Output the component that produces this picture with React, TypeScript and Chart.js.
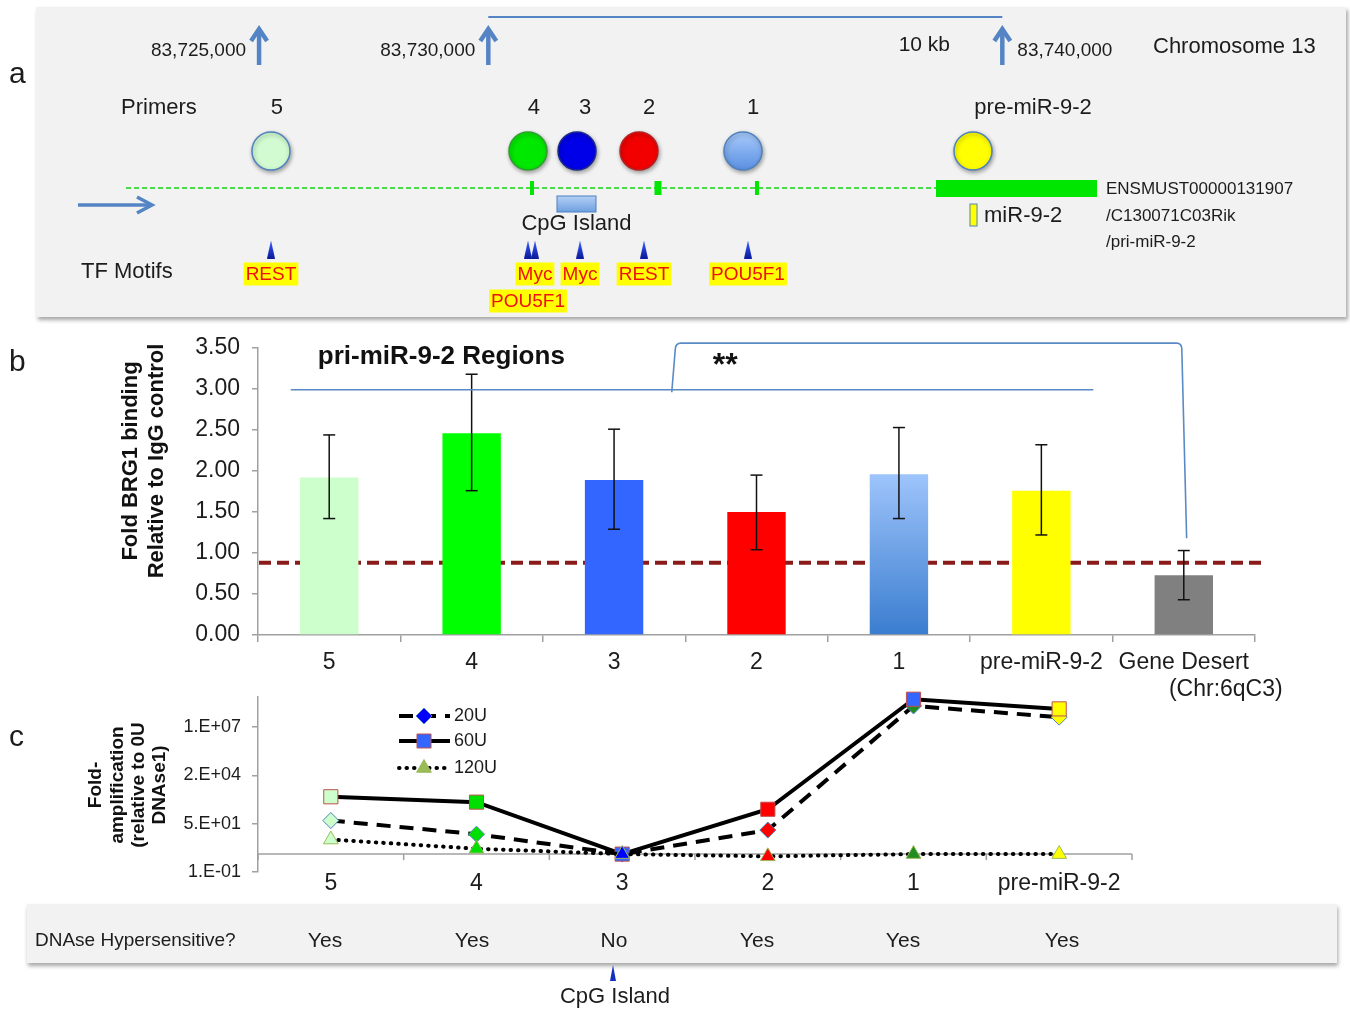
import React, { useEffect, useRef } from 'react';
import { Chart, registerables } from 'chart.js';

Chart.register(...registerables);

const FONT = '"Liberation Sans", Arial, Helvetica, sans-serif';
const TXT = '#1c1c1c';
const AXIS = '#a0a0a0';
const MAP_BLUE = '#5484c4';

// ===== Panel a : chromosome 13 map (positions in bp, schematic) =====
const scaleMarkLabels = ['83,725,000', '83,730,000', '83,740,000'];
const scaleMarkPos = [83725540, 83730000, 83740000];
const scaleBarSpan = [83730000, 83740000];
const scaleBarLabel = '10 kb';
const primerNames = ['5', '4', '3', '2', '1', 'pre-miR-9-2'];
const primerPos = [83725772, 83730772, 83731726, 83732932, 83734955, 83739430];
const geneSpan = [83722951, 83738710];
const exonTicks = [[83730811, 83730889], [83733233, 83733369], [83735188, 83735266]];
const exonBlock = [83738710, 83741842];
const tssArrow = [83722017, 83723457];
const cpgSpan = [83731336, 83732095];
const mirSpan = [83739371, 83739508];
const motifNames = ['REST', 'POU5F1', 'Myc', 'Myc', 'REST', 'POU5F1'];
const motifPos = [83725772, 83730772, 83730908, 83731784, 83733029, 83735052];
const motifRow = [1, 2, 1, 1, 1, 1];
const transcriptNames = ['ENSMUST00000131907', '/C130071C03Rik', '/pri-miR-9-2'];

// ===== Panel b : BRG1 ChIP =====
const bCategories = ['5', '4', '3', '2', '1', 'pre-miR-9-2', 'Gene Desert'];
const bValues = [1.92, 2.46, 1.89, 1.5, 1.96, 1.76, 0.73];
const bErrHigh = [2.44, 3.18, 2.51, 1.95, 2.53, 2.32, 1.03];
const bErrLow = [1.42, 1.76, 1.29, 1.04, 1.42, 1.22, 0.43];
const bTickLabels = ['0.00', '0.50', '1.00', '1.50', '2.00', '2.50', '3.00', '3.50'];
const bIgGLevel = 0.88;

// ===== Panel c : DNase I sensitivity =====
const cCategories = ['5', '4', '3', '2', '1', 'pre-miR-9-2'];
const c20U = [75, 13, 1, 22, 1.9e8, 4.5e7];
const c60U = [1600, 800, 1, 320, 4.5e8, 1.3e8];
const c120U = [6.5, 2, 1, 0.75, 1, 1];
const cTickValues = [0.1, 50, 25000, 12500000];
const cTickLabels = ['1.E-01', '5.E+01', '2.E+04', '1.E+07'];
const dnaseAnswers = ['Yes', 'Yes', 'No', 'Yes', 'Yes', 'Yes'];

// ===== styles / layout =====
const primerFill = ['#d2fbd2', '#00e800', '#0000e8', '#f20000', '#7eaef2', '#ffff00'];
const primerStroke = ['#4f81bd', '#2e9e2e', '#1a2a8a', '#b22222', '#4f81bd', '#4f81bd'];
const primerLabelDx = [6, 6, 8, 10, 10, 60];
const bFill = ['#ccffcc', '#00ff00', '#3366ff', '#ff0000', '#7aaaf0', '#ffff00', '#808080'];
const fill20 = ['#ccffcc', '#00e000', '#0000ff', '#ff0000', '#228b22', '#ffff00'];
const fill60 = ['#ccffcc', '#00e000', '#3366ff', '#ff0000', '#3366ff', '#ffff00'];
const fill120 = ['#ccffcc', '#00e000', '#0000ff', '#ff0000', '#228b22', '#ffff00'];
const dnaseX = [325, 472, 614, 757, 903, 1062];

const A_MIN = 83720500;
const A_MAX = A_MIN + 1350 * 19.455;

function text(ctx: any, s: string, x: number, y: number, size: number, align = 'left', weight = 'normal', color = TXT) {
  ctx.font = `${weight} ${size}px ${FONT}`;
  ctx.fillStyle = color;
  ctx.textAlign = align;
  ctx.textBaseline = 'middle';
  ctx.fillText(s, x, y);
}

function seg(ctx: any, x1: number, y1: number, x2: number, y2: number) {
  ctx.beginPath();
  ctx.moveTo(x1, y1);
  ctx.lineTo(x2, y2);
  ctx.stroke();
}

function triangleImage() {
  const c = document.createElement('canvas');
  c.width = 8;
  c.height = 18;
  const g = c.getContext('2d')!;
  const gr = g.createLinearGradient(0, 0, 0, 18);
  gr.addColorStop(0, '#3a5cff');
  gr.addColorStop(1, '#0a1a9a');
  g.fillStyle = gr;
  g.beginPath();
  g.moveTo(4, 0);
  g.lineTo(8, 18);
  g.lineTo(0, 18);
  g.closePath();
  g.fill();
  return c;
}

const aPlugin = {
  id: 'aMap',
  beforeDatasetsDraw(chart: any) {
    const { ctx } = chart;
    const X = (v: number) => chart.scales.x.getPixelForValue(v);
    const Y = (v: number) => chart.scales.y.getPixelForValue(v);
    ctx.save();
    text(ctx, 'a', 9, Y(75), 30);
    // scale bar
    ctx.strokeStyle = MAP_BLUE;
    ctx.lineWidth = 2;
    seg(ctx, X(scaleBarSpan[0]), Y(17), X(scaleBarSpan[1]), Y(17));
    text(ctx, scaleBarLabel, X(scaleBarSpan[1]) - 78, Y(45), 21, 'center');
    // coordinate arrows
    scaleMarkPos.forEach((p, i) => {
      const x = X(p);
      ctx.strokeStyle = MAP_BLUE;
      ctx.lineWidth = 4.5;
      ctx.lineCap = 'butt';
      ctx.lineJoin = 'miter';
      seg(ctx, x, Y(65), x, Y(30));
      ctx.beginPath();
      ctx.moveTo(x - 8, Y(41));
      ctx.lineTo(x, Y(29));
      ctx.lineTo(x + 8, Y(41));
      ctx.stroke();
      const leftSide = i < 2;
      text(ctx, scaleMarkLabels[i], leftSide ? x - 13 : x + 15, Y(51), 19, leftSide ? 'right' : 'left');
    });
    text(ctx, 'Chromosome 13', 1153, Y(47), 22);
    // primer labels
    text(ctx, 'Primers', 121, Y(108), 22);
    primerNames.forEach((n, i) => text(ctx, n, X(primerPos[i]) + primerLabelDx[i], Y(108), 22, 'center'));
    // gene model
    ctx.strokeStyle = '#4ddc4d';
    ctx.lineWidth = 2;
    ctx.setLineDash([5, 3]);
    seg(ctx, X(geneSpan[0]), Y(188), X(geneSpan[1]), Y(188));
    ctx.setLineDash([]);
    ctx.fillStyle = '#00e600';
    exonTicks.forEach(([s, e]) => ctx.fillRect(X(s), Y(181), X(e) - X(s), Y(195) - Y(181)));
    ctx.fillRect(X(exonBlock[0]), Y(180), X(exonBlock[1]) - X(exonBlock[0]), Y(197) - Y(180));
    transcriptNames.forEach((t, i) => text(ctx, t, X(exonBlock[1]) + 9, Y([189, 216, 242][i]), 17));
    // TSS arrow
    const ax0 = X(tssArrow[0]);
    const ax1 = X(tssArrow[1]);
    ctx.strokeStyle = MAP_BLUE;
    ctx.lineWidth = 3.5;
    seg(ctx, ax0, Y(205), ax1 - 2, Y(205));
    ctx.beginPath();
    ctx.moveTo(ax1 - 15, Y(197));
    ctx.lineTo(ax1, Y(205));
    ctx.lineTo(ax1 - 15, Y(213));
    ctx.stroke();
    // CpG island
    const cx0 = X(cpgSpan[0]);
    const cx1 = X(cpgSpan[1]);
    const cg = ctx.createLinearGradient(0, Y(196), 0, Y(212));
    cg.addColorStop(0, '#b4d0f6');
    cg.addColorStop(1, '#6e9fe0');
    ctx.fillStyle = cg;
    ctx.fillRect(cx0, Y(196), cx1 - cx0, Y(212) - Y(196));
    ctx.strokeStyle = '#4f7fc0';
    ctx.lineWidth = 1;
    ctx.strokeRect(cx0, Y(196), cx1 - cx0, Y(212) - Y(196));
    text(ctx, 'CpG Island', (cx0 + cx1) / 2, Y(224), 22, 'center');
    // miR-9-2
    const mx0 = X(mirSpan[0]);
    const mx1 = X(mirSpan[1]);
    ctx.fillStyle = '#ffff00';
    ctx.fillRect(mx0, Y(204), mx1 - mx0, Y(226) - Y(204));
    ctx.strokeStyle = '#4f81bd';
    ctx.strokeRect(mx0, Y(204), mx1 - mx0, Y(226) - Y(204));
    text(ctx, 'miR-9-2', mx1 + 7, Y(216), 22);
    // TF motifs
    text(ctx, 'TF Motifs', 81, Y(272), 22);
    motifNames.forEach((n, i) => {
      const x = X(motifPos[i]);
      const y = Y(motifRow[i] === 1 ? 274 : 301);
      ctx.font = `19px ${FONT}`;
      const w = ctx.measureText(n).width;
      ctx.fillStyle = '#ffff00';
      ctx.fillRect(x - w / 2 - 2, y - 11.5, w + 4, 23);
      text(ctx, n, x, y + 0.5, 19, 'center', 'normal', '#ee1111');
    });
    ctx.restore();
  },
  beforeDatasetDraw(chart: any, args: any) {
    if (args.index === 0) {
      const ctx = chart.ctx;
      ctx.save();
      ctx.shadowColor = 'rgba(0,0,0,0.35)';
      ctx.shadowBlur = 4;
      ctx.shadowOffsetX = 1;
      ctx.shadowOffsetY = 2;
    }
  },
  afterDatasetDraw(chart: any, args: any) {
    if (args.index === 0) chart.ctx.restore();
  },
};

function buildA(canvas: HTMLCanvasElement) {
  const tri = triangleImage();
  return new Chart(canvas, {
    type: 'scatter',
    data: {
      datasets: [
        {
          data: primerPos.map((p) => ({ x: p, y: 151 })),
          pointRadius: 19,
          pointHoverRadius: 19,
          pointBackgroundColor: (c: any) => {
            const i = c.dataIndex;
            if (c.type !== 'data') return '#ccc';
            if (i !== 4 || !c.chart.chartArea) return primerFill[i];
            const y = c.chart.scales.y.getPixelForValue(151);
            const g = c.chart.ctx.createLinearGradient(0, y - 19, 0, y + 19);
            g.addColorStop(0, '#a8cafb');
            g.addColorStop(1, '#5a90e2');
            return g;
          },
          pointBorderColor: primerStroke,
          pointBorderWidth: 1.5,
          clip: false,
        },
        {
          data: motifPos.map((p) => ({ x: p, y: 249.5 })),
          pointStyle: tri,
          pointRadius: 9,
          clip: false,
        },
      ],
    } as any,
    options: {
      responsive: false,
      animation: false,
      devicePixelRatio: 1,
      events: [],
      layout: { padding: 0, autoPadding: false },
      scales: {
        x: { type: 'linear', min: A_MIN, max: A_MAX, display: false },
        y: { type: 'linear', min: 0, max: 320, reverse: true, display: false },
      },
      plugins: { legend: { display: false }, tooltip: { enabled: false } },
    } as any,
    plugins: [aPlugin as any],
  });
}

const bPlugin = {
  id: 'bDeco',
  beforeDatasetsDraw(chart: any) {
    const { ctx, chartArea } = chart;
    const y = chart.scales.y.getPixelForValue(bIgGLevel);
    ctx.save();
    ctx.strokeStyle = '#8b1a1a';
    ctx.lineWidth = 4;
    ctx.setLineDash([12, 6]);
    seg(ctx, chartArea.left + 1, y, chartArea.right + 10, y);
    ctx.restore();
  },
  afterDatasetsDraw(chart: any) {
    const { ctx } = chart;
    const X = (v: number) => chart.scales.x.getPixelForValue(v);
    const Y = (v: number) => chart.scales.y.getPixelForValue(v);
    ctx.save();
    // error bars
    ctx.strokeStyle = '#111';
    ctx.lineWidth = 1.5;
    bValues.forEach((_, i) => {
      const x = X(i);
      const yh = Y(bErrHigh[i]);
      const yl = Y(bErrLow[i]);
      seg(ctx, x, yh, x, yl);
      seg(ctx, x - 6, yh, x + 6, yh);
      seg(ctx, x - 6, yl, x + 6, yl);
    });
    // significance brackets
    ctx.strokeStyle = '#5a8ac6';
    ctx.lineWidth = 1.6;
    seg(ctx, X(-0.27), Y(2.99), X(5.365), Y(2.99));
    ctx.beginPath();
    ctx.moveTo(X(2.405), Y(2.96));
    ctx.lineTo(X(2.43), Y(3.49));
    ctx.quadraticCurveTo(X(2.432), Y(3.56), X(2.47), Y(3.56));
    ctx.lineTo(X(5.95), Y(3.56));
    ctx.quadraticCurveTo(X(5.985), Y(3.56), X(5.986), Y(3.49));
    ctx.lineTo(X(6.02), Y(1.18));
    ctx.stroke();
    text(ctx, '**', X(2.78), Y(3.28), 32, 'center', 'bold', '#111');
    text(ctx, 'pri-miR-9-2 Regions', X(-0.08), Y(3.39), 26, 'left', 'bold', '#111');
    text(ctx, '(Chr:6qC3)', X(6) + 42, 370, 23, 'center');
    text(ctx, 'b', 9, 43, 30);
    const yt = ['Fold BRG1 binding', 'Relative to IgG control'];
    yt.forEach((s, i) => {
      ctx.save();
      ctx.translate(131 + i * 26, 141);
      ctx.rotate(-Math.PI / 2);
      text(ctx, s, 0, 0, 22, 'center', 'bold', '#111');
      ctx.restore();
    });
    ctx.restore();
  },
};

function buildB(canvas: HTMLCanvasElement) {
  return new Chart(canvas, {
    type: 'bar',
    data: {
      labels: bCategories,
      datasets: [
        {
          data: bValues,
          backgroundColor: (c: any) => {
            const i = c.dataIndex;
            if (c.type !== 'data') return '#888';
            if (i !== 4 || !c.chart.chartArea) return bFill[i];
            const top = c.chart.scales.y.getPixelForValue(bValues[i]);
            const g = c.chart.ctx.createLinearGradient(0, top, 0, c.chart.chartArea.bottom);
            g.addColorStop(0, '#9ec4fb');
            g.addColorStop(1, '#3a7dcf');
            return g;
          },
          borderWidth: 0,
          barPercentage: 0.41,
          categoryPercentage: 1,
        },
      ],
    } as any,
    options: {
      responsive: false,
      animation: false,
      devicePixelRatio: 1,
      events: [],
      layout: { padding: { left: 0, right: 95, top: 28, bottom: 0 }, autoPadding: false },
      scales: {
        x: {
          grid: { display: true, drawOnChartArea: false, offset: true, tickLength: 7, color: AXIS, lineWidth: 1.5 },
          border: { display: true, color: AXIS, width: 1.5 },
          ticks: { color: TXT, font: { family: FONT, size: 23 }, padding: 7, maxRotation: 0, autoSkip: false },
          afterFit: (s: any) => {
            s.height = 70;
            s.paddingLeft = 0;
            s.paddingRight = 0;
          },
        },
        y: {
          min: 0,
          max: 3.5,
          ticks: { stepSize: 0.5, callback: (_v: any, i: number) => bTickLabels[i], color: TXT, font: { family: FONT, size: 23 }, padding: 12 },
          grid: { drawOnChartArea: false, tickLength: 6, color: AXIS, lineWidth: 1.5 },
          border: { display: true, color: AXIS, width: 1.5 },
          afterFit: (s: any) => {
            s.width = 258;
            s.paddingTop = 0;
            s.paddingBottom = 0;
          },
        },
      },
      plugins: { legend: { display: false }, tooltip: { enabled: false } },
    } as any,
    plugins: [bPlugin as any],
  });
}

function drawMarker(ctx: any, style: string, x: number, y: number, fill: string, stroke: string) {
  ctx.fillStyle = fill;
  ctx.strokeStyle = stroke;
  ctx.lineWidth = 1;
  ctx.setLineDash([]);
  ctx.beginPath();
  if (style === 'rectRot') {
    ctx.moveTo(x, y - 8);
    ctx.lineTo(x + 8, y);
    ctx.lineTo(x, y + 8);
    ctx.lineTo(x - 8, y);
  } else if (style === 'rect') {
    ctx.rect(x - 7, y - 7, 14, 14);
  } else {
    const r = 8.5;
    ctx.moveTo(x, y - r);
    ctx.lineTo(x + r * 0.866, y + r / 2);
    ctx.lineTo(x - r * 0.866, y + r / 2);
  }
  ctx.closePath();
  ctx.fill();
  ctx.stroke();
}

const cPlugin = {
  id: 'cDeco',
  beforeDatasetsDraw(chart: any) {
    const { ctx, chartArea } = chart;
    const xs = chart.scales.x;
    const y1 = chart.scales.y.getPixelForValue(1);
    ctx.save();
    ctx.strokeStyle = AXIS;
    ctx.lineWidth = 1.5;
    seg(ctx, chartArea.left, y1, chartArea.right, y1);
    for (let i = 0; i <= cCategories.length; i++) {
      const x = xs.getPixelForValue(i - 0.5);
      seg(ctx, x, y1, x, y1 + 6);
    }
    ctx.restore();
  },
  afterDraw(chart: any) {
    const { ctx } = chart;
    ctx.save();
    text(ctx, 'c', 9, 48, 30);
    const yt = ['Fold-', 'amplification', '(relative to 0U', 'DNAse1)'];
    yt.forEach((s, i) => {
      ctx.save();
      ctx.translate(96 + i * 21.3, 95);
      ctx.rotate(-Math.PI / 2);
      text(ctx, s, 0, 0, 19, 'center', 'bold', '#111');
      ctx.restore();
    });
    // legend
    const items = [
      { label: '20U', dash: [14, 9], width: 4, cap: 'butt', style: 'rectRot', fill: '#0000ff', stroke: '#4f81bd', y: 26 },
      { label: '60U', dash: [], width: 4, cap: 'butt', style: 'rect', fill: '#3366ff', stroke: '#c0504d', y: 51 },
      { label: '120U', dash: [0.5, 7], width: 4, cap: 'round', style: 'triangle', fill: '#9bbb59', stroke: '#9bbb59', y: 78 },
    ];
    items.forEach((it) => {
      ctx.strokeStyle = '#000';
      ctx.lineWidth = it.width;
      ctx.lineCap = it.cap;
      ctx.setLineDash(it.dash);
      seg(ctx, 399, it.y, 450, it.y);
      ctx.lineCap = 'butt';
      drawMarker(ctx, it.style, 424, it.y, it.fill, it.stroke);
      text(ctx, it.label, 454, it.y, 18);
    });
    ctx.restore();
  },
};

function buildC(canvas: HTMLCanvasElement) {
  return new Chart(canvas, {
    type: 'line',
    data: {
      labels: cCategories,
      datasets: [
        {
          label: '20U',
          data: c20U,
          borderColor: '#000',
          borderWidth: 4,
          borderDash: [14, 9],
          pointStyle: 'rectRot',
          pointRadius: 8,
          pointBackgroundColor: fill20,
          pointBorderColor: '#4f81bd',
          pointBorderWidth: 1,
          tension: 0,
          clip: false,
          order: 3,
        },
        {
          label: '60U',
          data: c60U,
          borderColor: '#000',
          borderWidth: 4,
          pointStyle: 'rect',
          pointRadius: 10,
          pointBackgroundColor: fill60,
          pointBorderColor: '#c0504d',
          pointBorderWidth: 1,
          tension: 0,
          clip: false,
          order: 2,
        },
        {
          label: '120U',
          data: c120U,
          borderColor: '#000',
          borderWidth: 4,
          borderDash: [0.5, 7],
          borderCapStyle: 'round',
          pointStyle: 'triangle',
          pointRadius: 8.5,
          pointBackgroundColor: fill120,
          pointBorderColor: '#9bbb59',
          pointBorderWidth: 1,
          tension: 0,
          clip: false,
          order: 1,
        },
      ],
    } as any,
    options: {
      responsive: false,
      animation: false,
      devicePixelRatio: 1,
      events: [],
      layout: { padding: { left: 0, right: 218, top: 7, bottom: 0 }, autoPadding: false },
      scales: {
        x: {
          offset: true,
          grid: { display: false, drawTicks: false },
          border: { display: false },
          ticks: { color: TXT, font: { family: FONT, size: 23, lineHeight: 1 }, padding: 0, maxRotation: 0, autoSkip: false },
          afterFit: (s: any) => {
            s.height = 33;
            s.paddingLeft = 0;
            s.paddingRight = 0;
          },
        },
        y: {
          type: 'logarithmic',
          min: 0.1,
          max: 6e8,
          afterBuildTicks: (s: any) => {
            s.ticks = cTickValues.map((v) => ({ value: v }));
          },
          ticks: { callback: (_v: any, i: number) => cTickLabels[i], color: TXT, font: { family: FONT, size: 18 }, padding: 11, autoSkip: false },
          grid: { drawOnChartArea: false, tickLength: 6, color: AXIS, lineWidth: 1.5 },
          border: { display: true, color: AXIS, width: 1.5 },
          afterFit: (s: any) => {
            s.width = 258;
            s.paddingTop = 0;
            s.paddingBottom = 0;
          },
        },
      },
      plugins: { legend: { display: false }, tooltip: { enabled: false } },
    } as any,
    plugins: [cPlugin as any],
  });
}

export default function App() {
  const refA = useRef<HTMLCanvasElement>(null);
  const refB = useRef<HTMLCanvasElement>(null);
  const refC = useRef<HTMLCanvasElement>(null);

  useEffect(() => {
    Chart.defaults.font.family = FONT;
    Chart.defaults.color = TXT;
    const charts = [buildA(refA.current!), buildB(refB.current!), buildC(refC.current!)];
    return () => charts.forEach((c) => c.destroy());
  }, []);

  const abs: any = { position: 'absolute', whiteSpace: 'nowrap', lineHeight: 1 };

  return (
    <div style={{ position: 'absolute', left: 0, top: 0, width: 1350, height: 1011, background: '#fff', overflow: 'hidden', fontFamily: FONT, color: TXT }}>
      <div style={{ position: 'absolute', left: 36, top: 7, width: 1310, height: 310, background: '#f2f2f2', boxShadow: '2px 3px 4px rgba(0,0,0,0.35)' }} />
      <canvas ref={refA} width={1350} height={320} style={{ position: 'absolute', left: 0, top: 0 }} />
      <canvas ref={refB} width={1350} height={385} style={{ position: 'absolute', left: 0, top: 320 }} />
      <canvas ref={refC} width={1350} height={215} style={{ position: 'absolute', left: 0, top: 690 }} />
      <div style={{ position: 'absolute', left: 27, top: 904, width: 1310, height: 59, background: '#f2f2f2', boxShadow: '1px 3px 4px rgba(0,0,0,0.35)' }} />
      <div style={{ ...abs, left: 35, top: 939, fontSize: 19, transform: 'translateY(-50%)' }}>DNAse Hypersensitive?</div>
      {dnaseAnswers.map((a, i) => (
        <div key={i} style={{ ...abs, left: dnaseX[i], top: 939, fontSize: 21, transform: 'translate(-50%, -50%)' }}>
          {a}
        </div>
      ))}
      <div style={{ position: 'absolute', left: 609.5, top: 965, width: 0, height: 0, borderLeft: '3.5px solid transparent', borderRight: '3.5px solid transparent', borderBottom: '16px solid #1030c0' }} />
      <div style={{ ...abs, left: 615, top: 996, fontSize: 22, transform: 'translate(-50%, -50%)' }}>CpG Island</div>
    </div>
  );
}
